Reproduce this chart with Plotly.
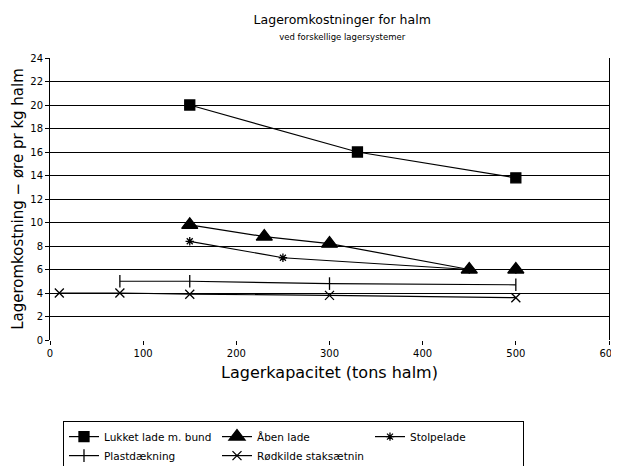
import plotly.graph_objects as go

# Data
lukket_x = [150, 330, 500]
lukket_y = [20.0, 16.0, 13.8]

aaben_x = [150, 230, 300, 450, 500]
aaben_y = [9.8, 8.8, 8.2, 6.0, 6.0]

stolpe_x = [150, 250, 450, 500]
stolpe_y = [8.4, 7.0, 6.0, 6.0]

plast_x = [75, 150, 300, 500]
plast_y = [5.0, 5.0, 4.8, 4.7]

roedkilde_x = [10, 75, 150, 300, 500]
roedkilde_y = [4.0, 4.0, 3.9, 3.8, 3.6]

x_ticks = [0, 100, 200, 300, 400, 500, 600]
y_ticks = list(range(0, 26, 2))

FONT = "DejaVu Sans"

fig = go.Figure()

def add(name, xs, ys, symbol, size, lw=1.2):
    fig.add_trace(go.Scatter(
        x=xs, y=ys, name=name, mode="lines+markers",
        line=dict(color="black", width=lw),
        marker=dict(symbol=symbol, size=size, color="black",
                    line=dict(color="black", width=1.3)),
    ))

add("Lukket lade m. bund", lukket_x, lukket_y, "square", 10)
add("Åben lade", aaben_x, aaben_y, "triangle-up", 14)
add("Stolpelade", stolpe_x, stolpe_y, "asterisk-open", 7)
add("Plastdækning", plast_x, plast_y, "line-ns-open", 9)
add("Rødkilde staksætnin", roedkilde_x, roedkilde_y, "x-thin-open", 9)

fig.update_layout(
    width=611, height=458,
    margin=dict(l=42, r=10, t=50, b=126, autoexpand=False),
    paper_bgcolor="white", plot_bgcolor="white",
    font=dict(family=FONT, color="black", size=10),
    title=dict(
        text="Lageromkostninger for halm<br><span style='font-size:8.5px'>ved forskellige lagersystemer</span>",
        x=0.547, xanchor="center", xref="container", y=0.965, yanchor="top",
        font=dict(size=12.5, family=FONT),
    ),
    showlegend=True,
    legend=dict(
        orientation="h", xref="container", yref="container",
        x=0.09, xanchor="left", y=0.098, yanchor="top",
        bordercolor="black", borderwidth=1, bgcolor="white",
        entrywidth=108, entrywidthmode="pixels",
        font=dict(size=10.5, family=FONT),
        tracegroupgap=0, itemwidth=30,
    ),
)

fig.update_xaxes(
    range=[0, 600], tickvals=x_ticks, ticktext=[str(v) for v in x_ticks],
    showgrid=False, zeroline=False, showline=False,
    ticks="outside", ticklen=4, tickcolor="black",
    tickfont=dict(size=10, family=FONT),
    ticklabeloverflow="allow",
    automargin=False,
    title=dict(text="Lagerkapacitet (tons halm)", font=dict(size=16, family=FONT), standoff=8),
)
fig.update_yaxes(
    range=[0, 24], tickvals=y_ticks,
    showgrid=True, gridcolor="black", gridwidth=1.3,
    zeroline=False, showline=True, linecolor="black", linewidth=1, mirror=True,
    ticks="outside", ticklen=4, tickcolor="black",
    tickfont=dict(size=10, family=FONT),
    automargin=False,
    title=dict(text="Lageromkostning − øre pr kg halm", font=dict(size=15, family=FONT), standoff=3),
)

fig.write_html("out.html")
